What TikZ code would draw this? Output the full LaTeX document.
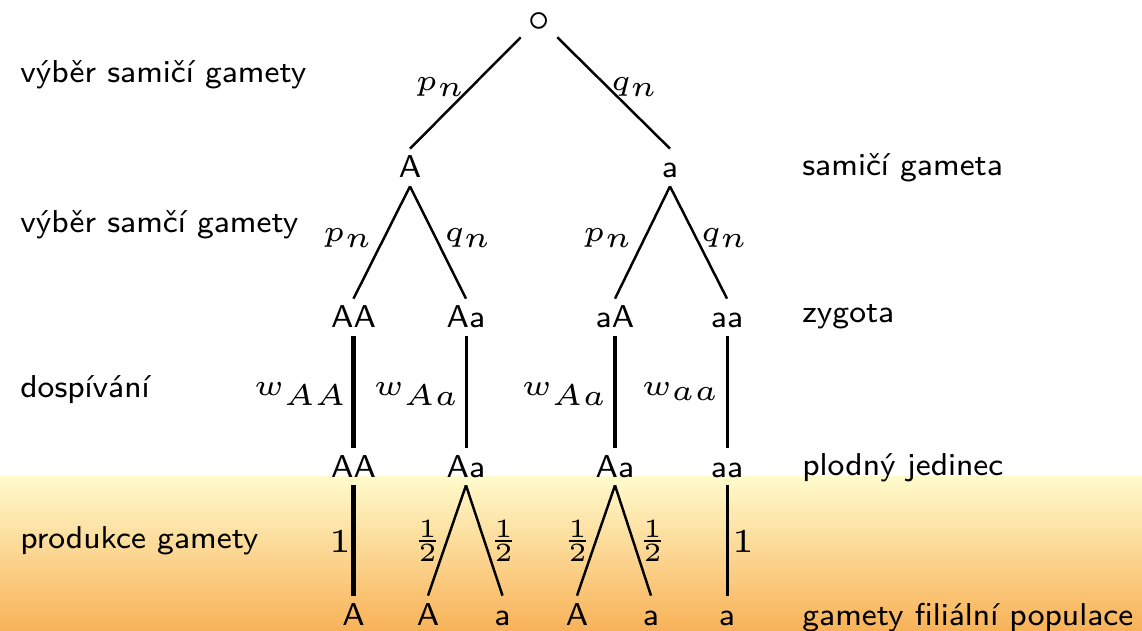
\documentclass[tikz,border=0pt]{standalone}
\usepackage{graphicx}
\newcommand{\bsc}[1]{\scalebox{3.6}{#1}}
\newcommand{\msc}[1]{\scalebox{3.4}{#1}}
\newcommand{\osc}[1]{\scalebox{3.8}{#1}}
\newcommand{\fsc}[1]{\scalebox{3.0}{#1}}
\newcommand{\rootsc}[1]{\scalebox{3.9}{#1}}
\definecolor{gradtop}{RGB}{255,251,204}
\definecolor{gradbot}{RGB}{248,178,88}
\begin{document}
\begin{tikzpicture}[x=0.02cm,y=-0.02cm,
  every node/.style={font=\fontsize{5}{6}\selectfont\sffamily},
  geno/.style={inner xsep=0pt, inner ysep=0.16cm, text height=0.42cm, text depth=0pt, anchor=base},
  txt/.style={inner sep=0pt, anchor=base west},
  lab/.style={inner sep=0pt, anchor=base},
  labr/.style={inner sep=0pt, anchor=base east},
  frc/.style={inner sep=0pt, anchor=center},
  diag/.style={line width=1.4pt},
  thinv/.style={line width=1.7pt},
  thickv/.style={line width=2.6pt}]
\useasboundingbox (0,0) rectangle (1142,631);
\shade[top color=gradtop, bottom color=gradbot] (0,476) rectangle (1142,631);

% tree nodes
\node[inner sep=0pt, minimum width=0.72cm, minimum height=0.64cm] (root) at (539,21) {\rootsc{$\circ$}};
\node[geno] (A1) at (410,178) {\bsc{A}};
\node[geno] (a1) at (670,178) {\bsc{a}};
\node[geno] (AA3) at (353.5,328) {\bsc{AA}};
\node[geno] (Aa3) at (466,328) {\bsc{Aa}};
\node[geno] (aA3) at (615,328) {\bsc{aA}};
\node[geno] (aa3) at (727,328) {\bsc{aa}};
\node[geno] (AA4) at (353.5,477) {\bsc{AA}};
\node[geno] (Aa4) at (466,477) {\bsc{Aa}};
\node[geno] (Ab4) at (615,477) {\bsc{Aa}};
\node[geno] (aa4) at (727,477) {\bsc{aa}};
\node[geno] (g1) at (353.5,625) {\bsc{A}};
\node[geno] (g2) at (428,625) {\bsc{A}};
\node[geno] (g3) at (502.5,625) {\bsc{a}};
\node[geno] (g4) at (577,625) {\bsc{A}};
\node[geno] (g5) at (651,625) {\bsc{a}};
\node[geno] (g6) at (727,625) {\bsc{a}};

% connectors
\draw[diag] (root.south west) -- (A1.north);
\draw[diag] (root.south east) -- (a1.north);
\draw[diag] (A1.south) -- (AA3.north);
\draw[diag] (A1.south) -- (Aa3.north);
\draw[diag] (a1.south) -- (aA3.north);
\draw[diag] (a1.south) -- (aa3.north);
\draw[thickv] (AA3.south) -- (AA4.north);
\draw[thinv] (Aa3.south) -- (Aa4.north);
\draw[thickv] (aA3.south) -- (Ab4.north);
\draw[thinv] (aa3.south) -- (aa4.north);
\draw[thickv] (AA4.south) -- (g1.north);
\draw[diag] (Aa4.south) -- (g2.north);
\draw[diag] (Aa4.south) -- (g3.north);
\draw[diag] (Ab4.south) -- (g4.north);
\draw[diag] (Ab4.south) -- (g5.north);
\draw[thinv] (aa4.south) -- (g6.north);

% edge labels
\node[lab] (l1) at (441,91) {\msc{$p_n$}};
\node[lab] (l2) at (635,91) {\msc{$q_n$}};
\node[lab] (l3) at (348.5,242) {\msc{$p_n$}};
\node[lab] (l4) at (468.5,242) {\msc{$q_n$}};
\node[lab] (l5) at (608.5,242) {\msc{$p_n$}};
\node[lab] (l6) at (725,242) {\msc{$q_n$}};
\node[labr] (w1) at (349,395) {\msc{$w_{AA}$}};
\node[labr] (w2) at (461,395) {\msc{$w_{Aa}$}};
\node[labr] (w3) at (609,395) {\msc{$w_{Aa}$}};
\node[labr] (w4) at (721,395) {\msc{$w_{aa}$}};
\node[lab] (o1) at (340,552) {\osc{$1$}};
\node[lab] (o2) at (743,552) {\osc{$1$}};
\node[frc] (f1) at (427.5,541) {\fsc{$\frac{1}{2}$}};
\node[frc] (f2) at (503.5,541) {\fsc{$\frac{1}{2}$}};
\node[frc] (f3) at (577.5,541) {\fsc{$\frac{1}{2}$}};
\node[frc] (f4) at (652.5,541) {\fsc{$\frac{1}{2}$}};

% side texts
\node[txt] (s1) at (20,83) {\bsc{výběr samičí gamety}};
\node[txt] (s2) at (20,233) {\bsc{výběr samčí gamety}};
\node[txt] (s3) at (20,398) {\bsc{dospívání}};
\node[txt] (s4) at (20,548) {\bsc{produkce gamety}};
\node[txt] (r1) at (802,176) {\bsc{samičí gameta}};
\node[txt] (r2) at (802,323) {\bsc{zygota}};
\node[txt] (r3) at (802,475) {\bsc{plodný jedinec}};
\node[txt] (r4) at (802,625) {\bsc{gamety filiální populace}};
\end{tikzpicture}
\end{document}
